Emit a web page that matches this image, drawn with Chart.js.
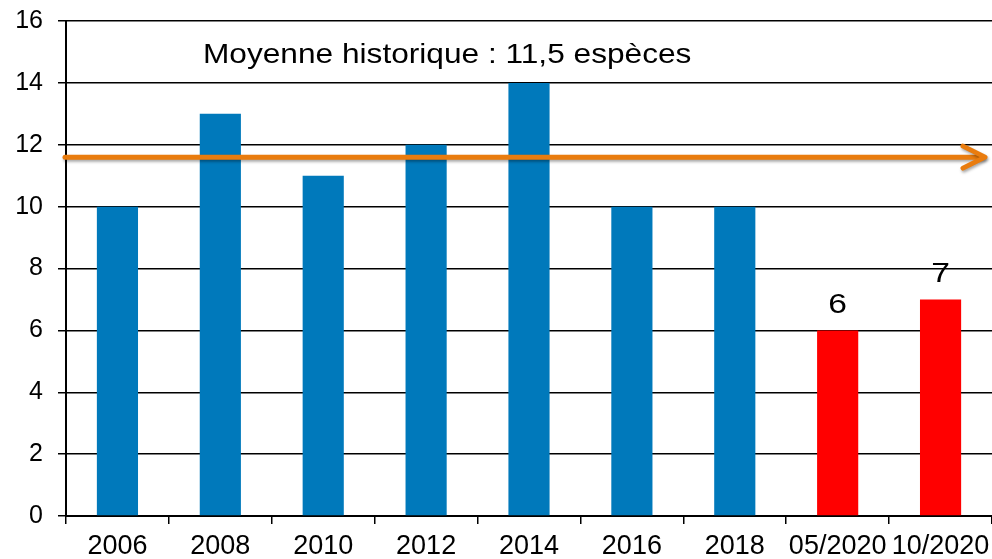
<!DOCTYPE html>
<html>
<head>
<meta charset="utf-8">
<script src="https://cdn.jsdelivr.net/npm/chart.js@4"></script>
<style>
  html, body { margin: 0; padding: 0; background: #fff; }
  #wrap { width: 992px; height: 559px; }
</style>
</head>
<body>
<div id="wrap"><canvas id="chart"></canvas></div>
<script>
// données
const categories = ['2006', '2008', '2010', '2012', '2014', '2016', '2018', '05/2020', '10/2020'];
const especes = [10, 13, 11, 12, 14, 10, 10, 6, 7];
const barColors = ['#0079BB', '#0079BB', '#0079BB', '#0079BB', '#0079BB', '#0079BB', '#0079BB', '#FF0000', '#FF0000'];
const labelledBars = [7, 8];
const moyenne = 11.6;
const moyenneText = 'Moyenne historique : 11,5 espèces';
const yTicks = [0, 2, 4, 6, 8, 10, 12, 14, 16];

const FONT = "Arial, 'Liberation Sans', sans-serif";

// texte un peu élargi comme sur l'original
function wideText(ctx, text, x, y, stretch) {
    ctx.save();
    ctx.translate(x, y);
    ctx.scale(stretch, 1);
    ctx.fillText(text, 0, 0);
    ctx.restore();
}

// flèche orange + texte de la moyenne
const moyennePlugin = {
    id: 'moyenne',
    afterDatasetsDraw(chart) {
        const ctx = chart.ctx;
        const area = chart.chartArea;
        const y = chart.scales.y.getPixelForValue(moyenne);
        const x0 = area.left - 1;
        const x1 = area.right - 7;

        ctx.save();
        ctx.shadowColor = 'rgba(0, 0, 0, 0.35)';
        ctx.shadowBlur = 3;
        ctx.shadowOffsetX = 1;
        ctx.shadowOffsetY = 2;
        ctx.strokeStyle = '#E97C0E';
        ctx.lineWidth = 5;
        ctx.lineCap = 'round';
        ctx.lineJoin = 'round';
        ctx.beginPath();
        ctx.moveTo(x0, y);
        ctx.lineTo(x1 - 2, y);
        ctx.stroke();
        ctx.beginPath();
        ctx.moveTo(x1 - 22, y - 11);
        ctx.lineTo(x1, y);
        ctx.lineTo(x1 - 22, y + 11);
        ctx.stroke();
        ctx.restore();

        ctx.save();
        ctx.fillStyle = '#000';
        ctx.font = '28px ' + FONT;
        ctx.textBaseline = 'alphabetic';
        ctx.textAlign = 'left';
        wideText(ctx, moyenneText, 203, 63, 1.13);
        ctx.restore();
    }
};

// valeurs au-dessus des barres rouges
const valeursPlugin = {
    id: 'valeurs',
    afterDatasetsDraw(chart) {
        const ctx = chart.ctx;
        const meta = chart.getDatasetMeta(0);
        ctx.save();
        ctx.fillStyle = '#000';
        ctx.font = '28px ' + FONT;
        ctx.textAlign = 'center';
        ctx.textBaseline = 'alphabetic';
        labelledBars.forEach(i => {
            const bar = meta.data[i];
            wideText(ctx, String(especes[i]), bar.x, bar.y - 17, 1.2);
        });
        ctx.restore();
    }
};

new Chart(document.getElementById('chart'), {
    type: 'bar',
    data: {
        labels: categories,
        datasets: [{
            data: especes,
            backgroundColor: barColors,
            borderWidth: 0,
            categoryPercentage: 1.0,
            barPercentage: 0.4
        }]
    },
    options: {
        responsive: true,
        maintainAspectRatio: false,
        animation: false,
        events: [],
        layout: { padding: { top: 21, right: 0, left: 0, bottom: 0 } },
        plugins: {
            legend: { display: false },
            tooltip: { enabled: false }
        },
        scales: {
            x: {
                offset: true,
                grid: {
                    offset: true,
                    drawOnChartArea: false,
                    drawTicks: true,
                    tickLength: 8,
                    color: '#000',
                    lineWidth: 1.5
                },
                border: { color: '#000', width: 2 },
                ticks: {
                    color: '#000',
                    font: { family: FONT, size: 27 },
                    padding: 6,
                    maxRotation: 0,
                    autoSkip: false
                },
                afterFit(scale) {
                    scale.height = 43;
                    scale.paddingLeft = 0;
                    scale.paddingRight = 0;
                }
            },
            y: {
                min: 0,
                max: 16,
                afterBuildTicks(scale) {
                    scale.ticks = yTicks.map(v => ({ value: v }));
                },
                grid: {
                    color: '#000',
                    lineWidth: 1.5,
                    tickLength: 8
                },
                border: { color: '#000', width: 2 },
                ticks: {
                    color: '#000',
                    font: { family: FONT, size: 25 },
                    padding: 15
                },
                afterFit(scale) {
                    scale.width = 66;
                    scale.paddingTop = 0;
                    scale.paddingBottom = 0;
                }
            }
        }
    },
    plugins: [moyennePlugin, valeursPlugin]
});
</script>
</body>
</html>
